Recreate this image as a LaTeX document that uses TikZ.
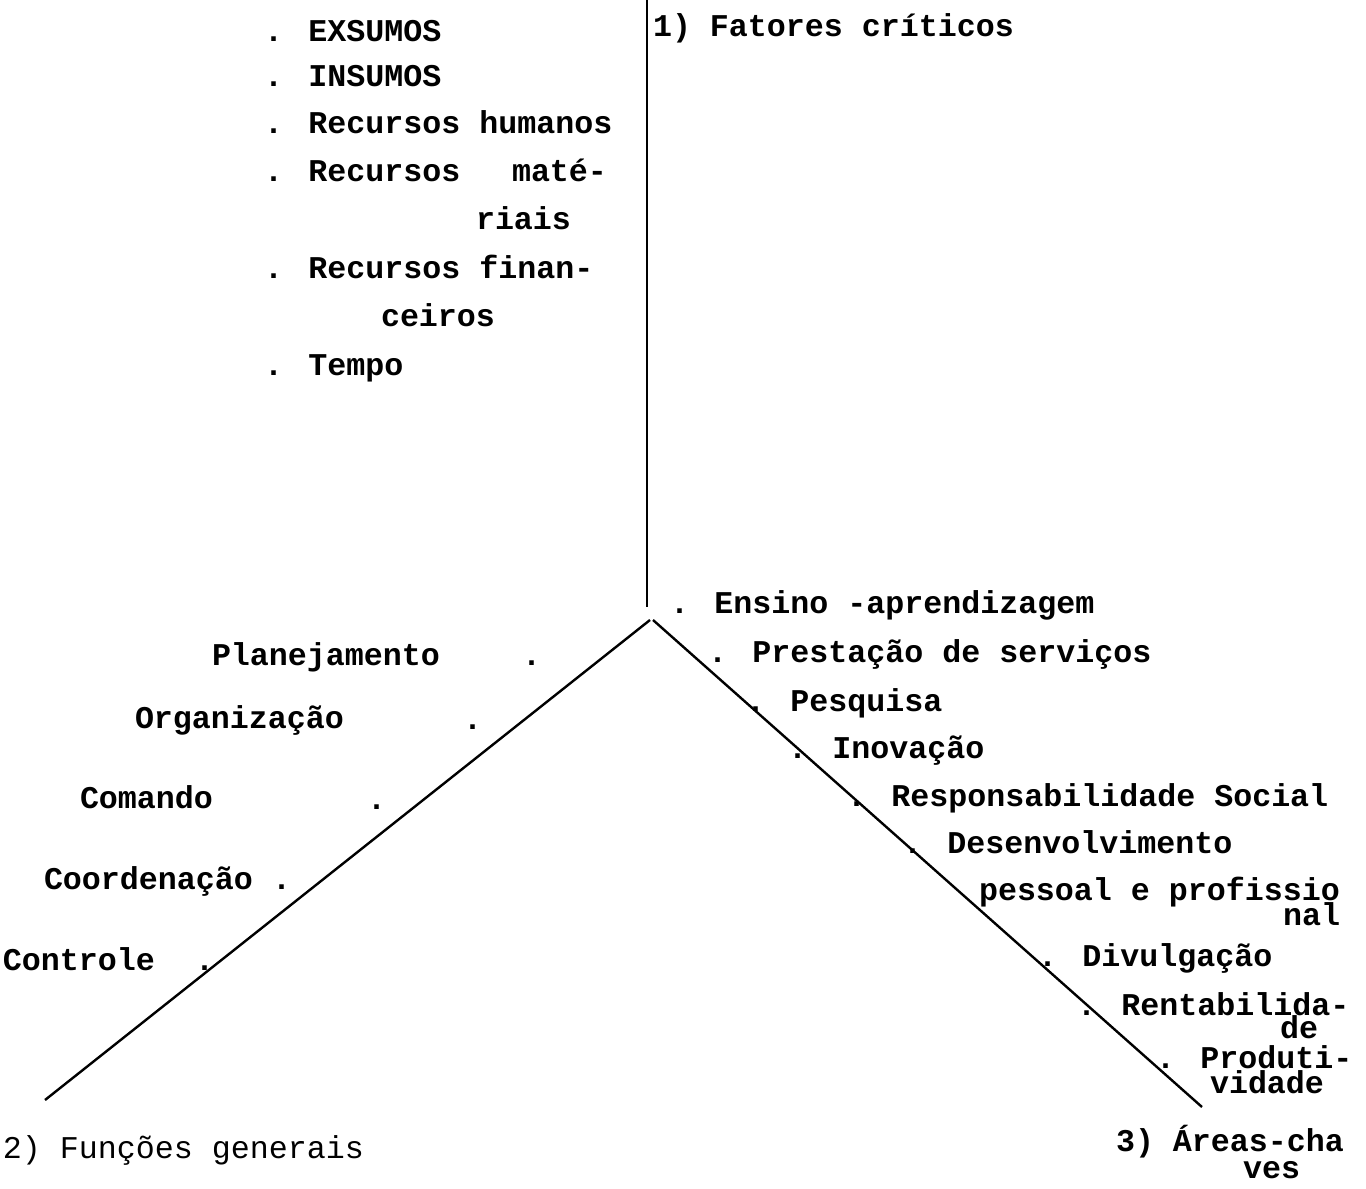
\documentclass[tikz,border=0pt]{standalone}
\usepackage{fontspec}
\newfontfamily\tw{Liberation Mono}
\begin{document}
\begin{tikzpicture}[x=0.5pt,y=-0.5pt,
  txt/.style={anchor=base west,inner sep=0pt,outer sep=0pt,font=\tw\bfseries\fontsize{15.83}{19}\selectfont},
  lighttxt/.style={anchor=base west,inner sep=0pt,outer sep=0pt,font=\tw\fontsize{15.83}{19}\selectfont},
  axisline/.style={line width=1.2pt,black}]
\useasboundingbox (0,0) rectangle (1366,1189);

% axes
\coordinate (top) at (647,0);
\coordinate (jv) at (647,607);
\coordinate (jl) at (650,620);
\coordinate (jr) at (653,620);
\coordinate (endl) at (45,1100);
\coordinate (endr) at (1202,1107);
\draw[axisline] (top) -- (jv);
\draw[axisline] (jl) -- (endl);
\draw[axisline] (jr) -- (endr);

% 1) critical factors
\node[txt] (fat) at (653,36) {1) Fatores críticos};
\node[txt] (exs) at (264,41) {. EXSUMOS};
\node[txt] (ins) at (264,86) {. INSUMOS};
\node[txt] (rh) at (264,133) {. Recursos humanos};
\node[txt] (rm) at (264,181) {. Recursos};
\node[txt] (rm2) at (512,181) {maté-};
\node[txt] (rm3) at (476,229) {riais};
\node[txt] (rf) at (264,278) {. Recursos finan-};
\node[txt] (rf2) at (381,326) {ceiros};
\node[txt] (tem) at (264,375) {. Tempo};

% 2) general functions
\node[txt] (pla) at (212,665) {Planejamento};
\node[txt] (plad) at (522,665) {.};
\node[txt] (org) at (135,728) {Organização};
\node[txt] (orgd) at (463,729) {.};
\node[txt] (com) at (80,808) {Comando};
\node[txt] (comd) at (367,809) {.};
\node[txt] (coo) at (44,889) {Coordenação};
\node[txt] (cood) at (272,889) {.};
\node[txt] (con) at (3,970) {Controle};
\node[txt] (cond) at (195,970) {.};
\node[lighttxt] (fun) at (3,1158) {2) Funções generais};

% 3) key areas
\node[txt] (ens) at (670,613) {. Ensino -aprendizagem};
\node[txt] (pre) at (708,662) {. Prestação de serviços};
\node[txt] (pes) at (746,711) {. Pesquisa};
\node[txt] (ino) at (788,758) {. Inovação};
\node[txt] (res) at (847,806) {. Responsabilidade Social};
\node[txt] (des) at (903,853) {. Desenvolvimento};
\node[txt] (pp) at (979,900) {pessoal e profissio};
\node[txt] (nal) at (1283,925) {nal};
\node[txt] (div) at (1038,966) {. Divulgação};
\node[txt] (ren) at (1077,1015) {. Rentabilida-};
\node[txt] (ren2) at (1280,1038) {de};
\node[txt] (pro) at (1156,1068) {. Produti-};
\node[txt] (pro2) at (1210,1093) {vidade};
\node[txt] (are) at (1116,1151) {3) Áreas-cha};
\node[txt] (are2) at (1243,1178) {ves};
\end{tikzpicture}
\end{document}
